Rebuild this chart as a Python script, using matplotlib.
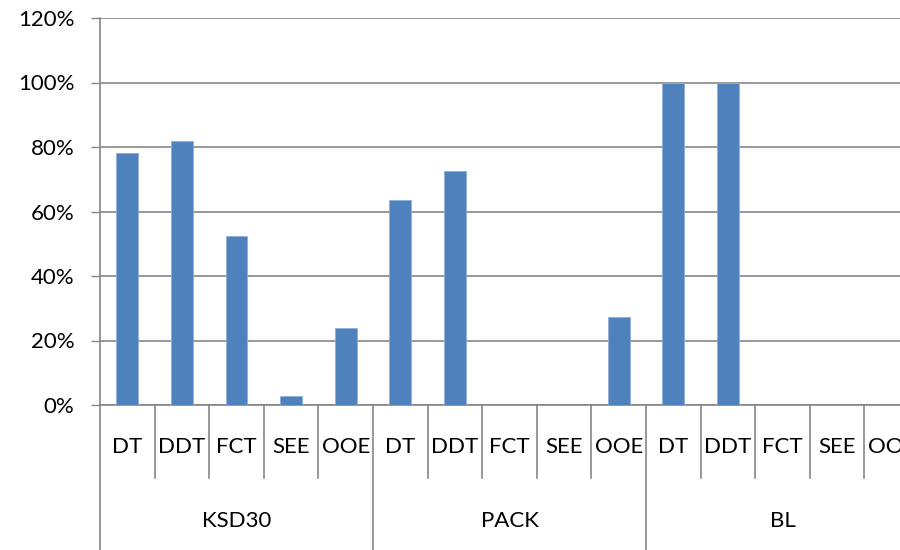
import matplotlib.pyplot as plt
from matplotlib.ticker import PercentFormatter

groups = ["KSD30", "PACK", "BL"]
methods = ["DT", "DDT", "FCT", "SEE", "OOE"]
ksd30 = [0.781, 0.818, 0.523, 0.028, 0.239]
pack = [0.636, 0.727, 0.0, 0.0, 0.273]
bl = [1.0, 1.0, 0.0, 0.0, 0.0]

values = ksd30 + pack + bl
labels = methods * len(groups)

GRID = "#868686"
BAR = "#4F81BD"
FS = 16
plt.rcParams["font.family"] = ["Lato", "DejaVu Sans"]

fig = plt.figure(figsize=(9, 5.5), dpi=100)
# plot area in pixels: left 100, top 18, bottom 405, category width ~54.6 px
cw = 54.6
ax = fig.add_axes([100 / 900, 145 / 550, 15 * cw / 900, 387 / 550])

x = [i + 0.5 for i in range(len(values))]
ax.bar(x, values, width=0.4, color=BAR, edgecolor="#8fb0dc", linewidth=0.6, zorder=3)

ax.set_xlim(0, len(values))
ax.set_ylim(0, 1.2)
ax.set_yticks([0, 0.2, 0.4, 0.6, 0.8, 1.0, 1.2])
ax.yaxis.set_major_formatter(PercentFormatter(1.0, decimals=0))
ax.yaxis.grid(True, color=GRID, linewidth=1.2, zorder=0)
ax.tick_params(axis="y", length=6.5, width=1.0, color=GRID, pad=12, labelsize=FS)
ax.set_xticks([])

for side in ["top", "right"]:
    ax.spines[side].set_visible(False)
ax.spines["left"].set_color(GRID)
ax.spines["bottom"].set_color(GRID)
ax.spines["left"].set_linewidth(1.2)
ax.spines["bottom"].set_linewidth(1.2)

# multi-level category axis below the plot
def ay(ypix):
    return (405 - ypix) / 387

tr = ax.get_xaxis_transform()
ax.plot([0, 0], [0, ay(550)], color=GRID, lw=1.2, transform=tr, clip_on=False)
for i in range(1, len(values)):
    bottom = ay(550) if i % len(methods) == 0 else ay(478)
    ax.plot([i, i], [0, bottom], color=GRID, lw=1.2, transform=tr, clip_on=False)

for xi, lab in zip(x, labels):
    ax.text(xi, ay(447), lab, transform=tr, ha="center", va="center", fontsize=FS)

for g, name in enumerate(groups):
    xc = g * len(methods) + len(methods) / 2
    ax.text(xc, ay(521), name, transform=tr, ha="center", va="center", fontsize=FS)

fig.savefig("out.png", dpi=100)
